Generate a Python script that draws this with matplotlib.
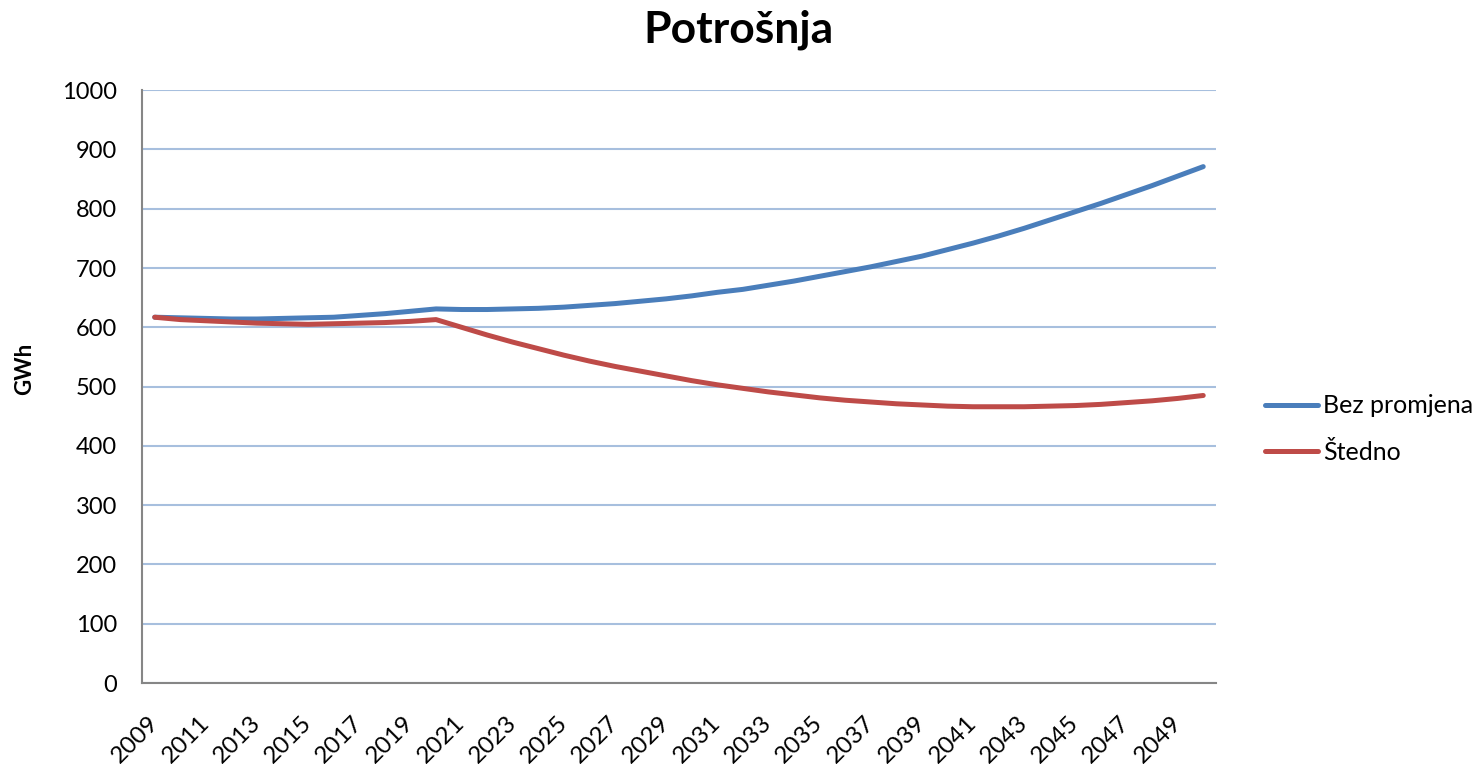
import numpy as np
import matplotlib
matplotlib.use("Agg")
import matplotlib.pyplot as plt

plt.rcParams['font.family'] = ['Lato', 'DejaVu Sans']

years = list(range(2009, 2051))
bez_promjena = [617, 616, 615, 614, 614, 615, 616, 617, 620, 623, 627, 631,
                630, 630, 631, 632, 634, 637, 640, 644, 648, 653, 659, 664,
                671, 678, 686, 694, 702, 711, 720, 731, 742, 754, 767, 781,
                795, 809, 824, 839, 855, 871]
stedno = [617, 613, 611, 609, 607, 606, 605, 606, 607, 608, 610, 613,
          600, 587, 575, 564, 553, 543, 534, 526, 518, 510, 503, 497,
          491, 486, 481, 477, 474, 471, 469, 467, 466, 466, 466, 467,
          468, 470, 473, 476, 480, 485]

fig = plt.figure(figsize=(14.77, 7.64), dpi=100)
ax = fig.add_axes([0.0961, 0.106, 0.7272, 0.776])

x = np.arange(len(years))
ax.plot(x, bez_promjena, color='#4a7ebb', lw=3.6, label='Bez promjena',
        solid_capstyle='round', solid_joinstyle='round')
ax.plot(x, stedno, color='#be4b48', lw=3.6, label='Štedno',
        solid_capstyle='round', solid_joinstyle='round')

ax.set_xlim(-0.5, len(years) - 0.5)
ax.set_ylim(0, 1000)
ax.set_yticks(range(0, 1001, 100))
ax.yaxis.grid(True, color='#a7bfde', lw=1.5)
ax.set_axisbelow(True)

ax.set_xticks(x[::2])
ax.set_xticklabels([str(y) for y in years[::2]], rotation=45,
                   ha='right', va='center', rotation_mode='anchor')
ax.tick_params(axis='x', length=0, pad=26, labelsize=17.5)
ax.tick_params(axis='y', length=0, pad=18, labelsize=17)

for s in ['top', 'right']:
    ax.spines[s].set_visible(False)
for s in ['left', 'bottom']:
    ax.spines[s].set_color('#868686')
    ax.spines[s].set_linewidth(1.5)

fig.text(25 / 1477, 1 - 369 / 764, 'GWh', rotation=90, fontsize=16,
         fontweight='bold', ha='center', va='center')
fig.text(0.5, 1 - 30 / 764, 'Potrošnja', fontsize=32, fontweight='bold',
         ha='center', va='center')

ax.legend(loc='center left', bbox_to_anchor=(1.025, 0.428), frameon=False,
          fontsize=18, handlelength=2.1, handletextpad=0.2, labelspacing=0.95)

fig.savefig('out.png', dpi=100)
